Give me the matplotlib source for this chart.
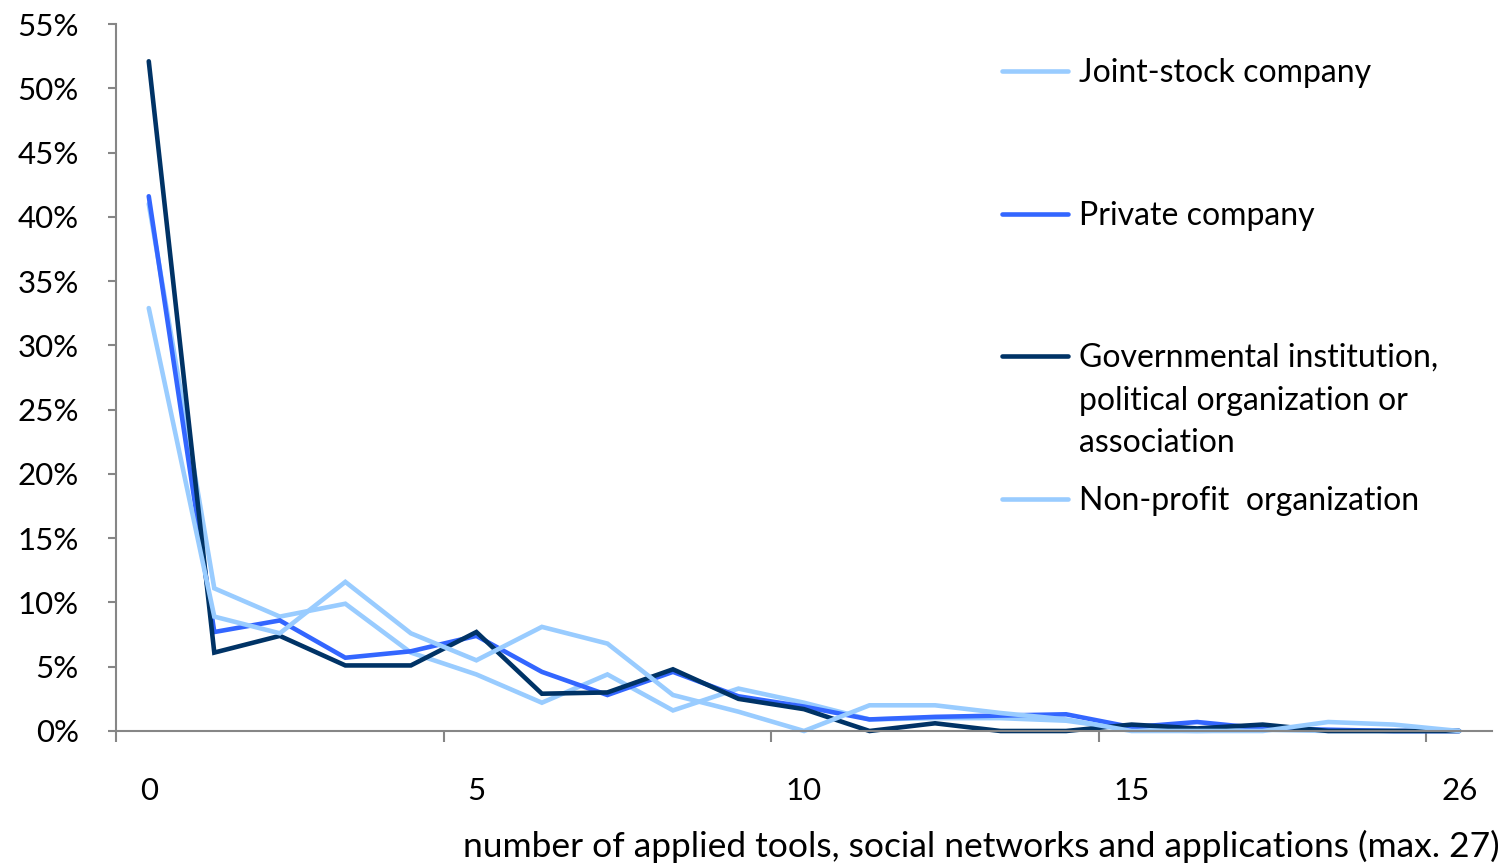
import matplotlib
matplotlib.use("Agg")
import matplotlib.pyplot as plt
from matplotlib.lines import Line2D

plt.rcParams['font.family'] = ['Lato', 'DejaVu Sans']

categories = [str(i) for i in range(20)] + ["26"]
tick_labels = ["0", "5", "10", "15", "26"]

joint_stock = [41.0, 11.1, 8.9, 9.9, 6.1, 4.4, 2.2, 4.4, 1.6, 3.3, 2.2, 0.9, 1.0, 1.0, 0.8, 0.1, 0.0, 0.1, 0.0, 0.0, 0.0]
private = [41.6, 7.7, 8.6, 5.7, 6.2, 7.4, 4.6, 2.8, 4.6, 2.7, 1.9, 0.9, 1.1, 1.2, 1.3, 0.3, 0.7, 0.2, 0.1, 0.0, 0.0]
governmental = [52.1, 6.1, 7.4, 5.1, 5.1, 7.7, 2.9, 3.0, 4.8, 2.5, 1.7, 0.0, 0.6, 0.0, 0.0, 0.5, 0.2, 0.5, 0.0, 0.0, 0.0]
non_profit = [32.9, 8.9, 7.6, 11.6, 7.6, 5.5, 8.1, 6.8, 2.8, 1.5, 0.0, 2.0, 2.0, 1.4, 0.9, 0.0, 0.0, 0.0, 0.7, 0.5, 0.0]

series = [
    ("Joint-stock company", joint_stock, "#99CCFF"),
    ("Private company", private, "#3366FF"),
    ("Governmental institution,\npolitical organization or\nassociation", governmental, "#003366"),
    ("Non-profit  organization", non_profit, "#99CCFF"),
]

W, H = 1511, 867
fig = plt.figure(figsize=(W / 100, H / 100), dpi=100)
ax = fig.add_axes([116 / W, 1 - 731 / H, (1492 - 116) / W, (731 - 24) / H])

x = list(range(len(categories)))
for name, vals, col in series:
    ax.plot(x, vals, color=col, lw=3.3, solid_capstyle='round', solid_joinstyle='miter', clip_on=False)

ax.set_xlim(-0.5, len(categories) - 0.5)
ax.set_ylim(0, 55)
ax.set_yticks(range(0, 56, 5))
ax.set_yticklabels([f"{v}%" for v in range(0, 56, 5)])

major_pos = [categories.index(t) for t in tick_labels]
ax.set_xticks(major_pos)
ax.set_xticklabels(tick_labels)
ax.set_xticks([p - 0.5 for p in major_pos], minor=True)

gray = "#868686"
for s in ["top", "right"]:
    ax.spines[s].set_visible(False)
for s in ["left", "bottom"]:
    ax.spines[s].set_color(gray)
    ax.spines[s].set_linewidth(1.5)

ax.tick_params(axis='y', direction='out', length=5.8, width=1.5, color=gray, labelsize=22.5, pad=21)
ax.tick_params(axis='x', which='major', length=0, labelsize=22.5, pad=33)
ax.tick_params(axis='x', which='minor', direction='out', length=8, width=1.5, color=gray)

fig.text(1500 / W, 1 - 857 / H, "number of applied tools, social networks and applications (max. 27)",
         ha='right', va='baseline', fontsize=25.5)

# legend
leg_y = [71, 214, 356, 499]
step = 42.5
for (name, vals, col), yy in zip(series, leg_y):
    fig.add_artist(Line2D([1002 / W, 1068 / W], [1 - yy / H, 1 - yy / H], color=col, lw=3.3,
                          solid_capstyle='round', transform=fig.transFigure))
    for k, line in enumerate(name.split("\n")):
        fig.text(1079 / W, 1 - (yy + 11 + k * step) / H, line, ha='left', va='baseline', fontsize=23)

fig.savefig("out.png", dpi=100)
